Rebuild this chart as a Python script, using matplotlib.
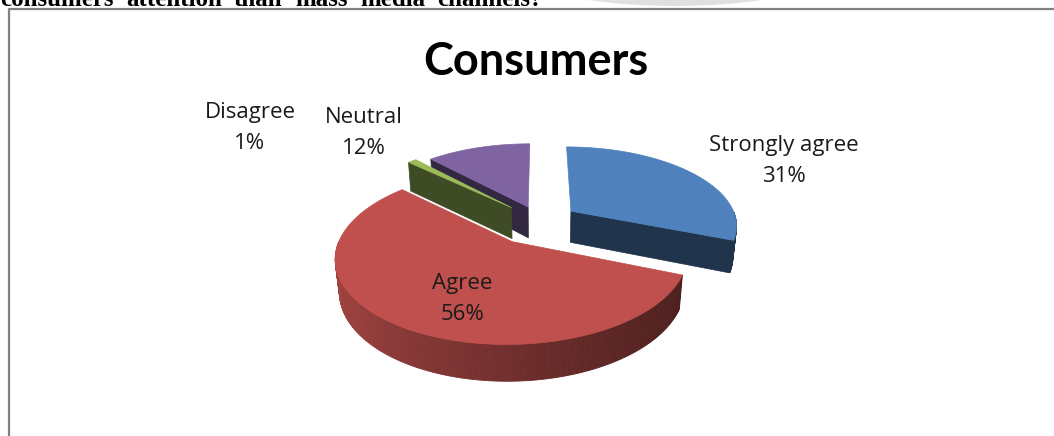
import numpy as np
import matplotlib.pyplot as plt
from matplotlib.patches import Polygon, Ellipse
from matplotlib.lines import Line2D
from matplotlib.colors import to_rgb

# survey answers, clockwise from 12 o'clock
categories = ['Strongly agree', 'Agree', 'Disagree', 'Neutral']
shares = [31, 56, 1, 12]
explode = [0.23, 0.3, 0.25, 0.2]
top_colors = ['#4f81bd', '#c0504d', '#9bbb59', '#8064a2']

# label baselines (pixels): first line, the percentage sits one line lower
label_xy = [(784, 151), (462, 289), (250, 118), (364, 123)]
line_gap = 31
title = 'Consumers'
question_words = ['consumers', 'attention', 'than', 'mass', 'media', 'channels?']
question_x = [0, 126, 234, 295, 360, 437]

W, H = 1054, 436
fig = plt.figure(figsize=(W / 100, H / 100), dpi=100)
ax = fig.add_axes([0, 0, 1, 1])
ax.set_xlim(0, W)
ax.set_ylim(H, 0)
ax.axis('off')

# perspective camera for the 3d pie
phi = np.radians(28)
dist = 5.3
R = 166
cx, cy = 540, 221
depth = 0.22


def project(x, y, z):
    x = np.atleast_1d(np.asarray(x, float))
    y = np.atleast_1d(np.asarray(y, float))
    z = np.atleast_1d(np.asarray(z, float)) * np.ones_like(x)
    v = y * np.sin(phi) + z * np.cos(phi)
    w = y * np.cos(phi) - z * np.sin(phi)
    s = dist / (dist + w)
    return np.column_stack([cx + R * x * s, cy - R * v * s])


def shade(color, f):
    r, g, b = to_rgb(color)
    return (r * f, g * f, b * f)


frac = np.array(shares, float) / sum(shares)
bounds = np.concatenate([[0], np.cumsum(frac)]) * 2 * np.pi

slices = []
for i in range(len(shares)):
    t1, t2 = bounds[i], bounds[i + 1]
    mid = (t1 + t2) / 2
    ox, oy = explode[i] * np.sin(mid), explode[i] * np.cos(mid)
    slices.append((oy + 0.5 * np.cos(mid), i, t1, t2, ox, oy))

# paint far slices first
for _, i, t1, t2, ox, oy in sorted(slices, reverse=True):
    col = top_colors[i]
    side = shade(col, 0.4)

    # radial faces that look toward the viewer
    for t, visible in ((t1, np.sin(t1) < -1e-6), (t2, np.sin(t2) > 1e-6)):
        if not visible:
            continue
        pts = np.vstack([project(ox, oy, 0), project(ox + np.sin(t), oy + np.cos(t), 0),
                         project(ox + np.sin(t), oy + np.cos(t), -depth), project(ox, oy, -depth)])
        ax.add_patch(Polygon(pts, closed=True, facecolor=side, edgecolor=side, lw=0.5))

    # curved outer wall, front half only, shaded left to right
    a = max(t1, np.pi / 2)
    b = min(t2, 3 * np.pi / 2)
    if b > a:
        ts = np.linspace(a, b, max(int(np.degrees(b - a)), 2) + 1)
        for k in range(len(ts) - 1):
            ta, tb = ts[k], ts[k + 1]
            xs = ox + np.sin([ta, tb])
            ys = oy + np.cos([ta, tb])
            pts = np.vstack([project(xs, ys, 0), project(xs[::-1], ys[::-1], -depth)])
            u = (np.sin((ta + tb) / 2) + 1) / 2
            c = shade(col, 0.86 - 0.47 * u ** 0.8)
            ax.add_patch(Polygon(pts, closed=True, facecolor=c, edgecolor=c, lw=0.6))

    # top face
    ts = np.linspace(t1, t2, max(int(np.degrees(t2 - t1)), 2) + 1)
    pts = np.vstack([project(ox, oy, 0), project(ox + np.sin(ts), oy + np.cos(ts), 0)])
    ax.add_patch(Polygon(pts, closed=True, facecolor=col, edgecolor=col, lw=0.5))

# data labels
for (lx, ly), cat, val in zip(label_xy, categories, shares):
    ax.text(lx, ly, cat, ha='center', va='baseline', fontsize=16,
            family='Open Sans', color='#1a1a1a')
    ax.text(lx, ly + line_gap, f'{val}%', ha='center', va='baseline', fontsize=16,
            family='Open Sans', color='#1a1a1a')

ax.text(536, 75, title, ha='center', va='baseline', fontsize=32.5, family='Lato',
        fontweight='bold', color='black')

# chart frame (left and top edges)
ax.add_line(Line2D([8.5, 8.5, W], [H, 9.5, 9.5], color='#808080', lw=1.6))

# page text above the chart, cut by the top edge
ax.add_patch(Ellipse((675, -16), 250, 44, facecolor='#d9d9d9', edgecolor='none', alpha=0.8))
for word, wx in zip(question_words, question_x):
    ax.text(wx, 6, word, ha='left', va='baseline', fontsize=18,
            family='Liberation Serif', fontweight='bold', color='black')

fig.savefig('out.png', dpi=100)
